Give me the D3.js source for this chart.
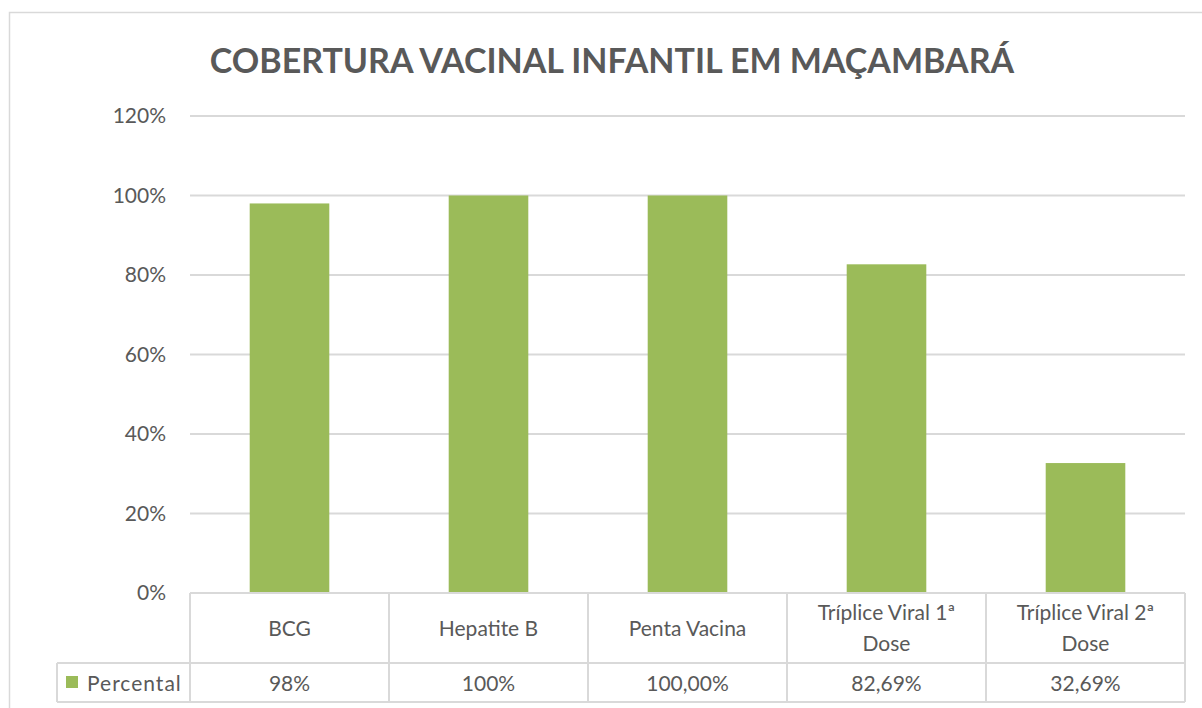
<!DOCTYPE html>
<html>
<head>
<meta charset="utf-8">
<script src="https://cdn.jsdelivr.net/npm/d3@7"></script>
<style>
  body { margin: 0; background: #fff; }
  text { font-family: Lato, "Open Sans", sans-serif; fill: #595959; }
</style>
</head>
<body>
<script>
var categories = ["BCG", "Hepatite B", "Penta Vacina", "Tríplice Viral 1ª Dose", "Tríplice Viral 2ª Dose"];
var labelLines = [["BCG"], ["Hepatite B"], ["Penta Vacina"], ["Tríplice Viral 1ª", "Dose"], ["Tríplice Viral 2ª", "Dose"]];
var values = [98, 100, 100, 82.69, 32.69];
var valueLabels = ["98%", "100%", "100,00%", "82,69%", "32,69%"];
var yTicks = [0, 20, 40, 60, 80, 100, 120];
var seriesName = "Percental";
var title = "COBERTURA VACINAL INFANTIL EM MAÇAMBARÁ";

var W = 1202, H = 708;
var plot = {left: 190, right: 1185, top: 116, bottom: 593};
var rowDiv = 663, tableBottom = 702, legendLeft = 57;
var green = "#9bbb59", grid = "#d9d9d9";

var svg = d3.select("body").append("svg")
  .attr("width", W).attr("height", H);

// chart frame
svg.append("rect")
  .attr("x", 9.5).attr("y", 12.5)
  .attr("width", 1200).attr("height", 720)
  .attr("fill", "none").attr("stroke", grid).attr("stroke-width", 1.5);

svg.append("text")
  .attr("x", 612).attr("y", 73)
  .attr("text-anchor", "middle")
  .style("font-size", "34px").style("font-weight", "bold")
  .text(title);

var x = d3.scaleBand()
  .domain(categories)
  .range([plot.left, plot.right])
  .paddingInner(0.6).paddingOuter(0.3);

var xCell = d3.scaleBand()
  .domain(categories)
  .range([plot.left, plot.right]);

var y = d3.scaleLinear()
  .domain([0, 120])
  .range([plot.bottom, plot.top]);

// gridlines
svg.append("g").selectAll("line")
  .data(yTicks.filter(function(d) { return d > 0; }))
  .enter().append("line")
  .attr("x1", plot.left).attr("x2", plot.right)
  .attr("y1", function(d) { return y(d); })
  .attr("y2", function(d) { return y(d); })
  .attr("stroke", grid).attr("stroke-width", 2);

// y axis labels
var yAxis = d3.axisLeft(y)
  .tickValues(yTicks)
  .tickFormat(function(d) { return d + "%"; })
  .tickSize(0).tickPadding(24);

var yg = svg.append("g")
  .attr("transform", "translate(" + plot.left + ",0)")
  .call(yAxis);
yg.select(".domain").remove();
yg.selectAll("text")
  .style("font-family", "Lato, 'Open Sans', sans-serif")
  .style("font-size", "21px").attr("fill", "#595959");

// bars
svg.append("g").selectAll("rect")
  .data(values)
  .enter().append("rect")
  .attr("x", function(d, i) { return x(categories[i]); })
  .attr("width", x.bandwidth())
  .attr("y", function(d) { return y(d); })
  .attr("height", function(d) { return y(0) - y(d); })
  .attr("fill", green);

// data table
var t = svg.append("g");
function line(x1, y1, x2, y2) {
  t.append("line").attr("x1", x1).attr("y1", y1).attr("x2", x2).attr("y2", y2)
    .attr("stroke", grid).attr("stroke-width", 2);
}
line(plot.left, plot.bottom, plot.right, plot.bottom);
line(legendLeft, rowDiv, plot.right, rowDiv);
line(legendLeft, tableBottom, plot.right, tableBottom);
line(legendLeft, rowDiv, legendLeft, tableBottom);
categories.forEach(function(c) {
  line(xCell(c), plot.bottom, xCell(c), tableBottom);
});
line(plot.right, plot.bottom, plot.right, tableBottom);

categories.forEach(function(c, i) {
  var cx = xCell(c) + xCell.bandwidth() / 2;
  var lines = labelLines[i];
  var txt = t.append("text")
    .attr("text-anchor", "middle")
    .style("font-size", "21px");
  var y0 = lines.length === 1 ? 636 : 620;
  lines.forEach(function(l, j) {
    txt.append("tspan").attr("x", cx).attr("y", y0 + j * 31).text(l);
  });
  t.append("text")
    .attr("x", cx).attr("y", 691)
    .attr("text-anchor", "middle")
    .style("font-size", "21px")
    .text(valueLabels[i]);
});

t.append("rect")
  .attr("x", 66).attr("y", 676).attr("width", 12).attr("height", 12)
  .attr("fill", green);
t.append("text")
  .attr("x", 87).attr("y", 691)
  .style("font-size", "21px")
  .style("letter-spacing", "1px")
  .text(seriesName);
</script>
</body>
</html>
